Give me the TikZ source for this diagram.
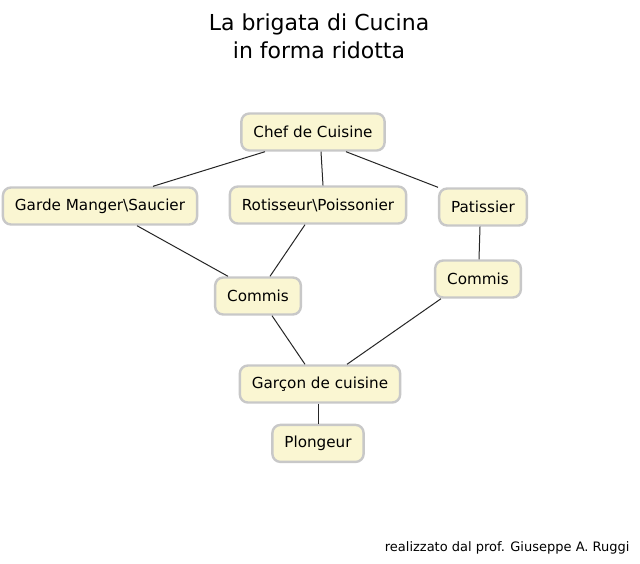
\documentclass[tikz,border=0pt]{standalone}
\usepackage{fontspec}
\setmainfont{DejaVu Sans}
\usetikzlibrary{positioning}
\definecolor{boxfill}{HTML}{FAF6D2}
\definecolor{boxline}{HTML}{C8C8C8}

\begin{document}
\begin{tikzpicture}[
x=1pt,y=-1pt,
role/.style={draw=boxline,fill=boxfill,line width=2.4pt,rounded corners=8pt,
  inner xsep=12pt,minimum height=37pt,font=\fontsize{15.2}{18}\selectfont},
link/.style={line width=1pt,black!85}
]
\useasboundingbox[fill=white] (0,0) rectangle (640,563);

\node[align=center,font=\fontsize{22}{28}\selectfont] (title) at (319,36) {La brigata di Cucina\\in forma ridotta};

\node[role] (chef) at (313,132) {Chef de Cuisine};
\node[role] (garde) at (100,206) {Garde Manger\textbackslash Saucier};
\node[role] (rotis) at (318,205) {Rotisseur\textbackslash Poissonier};
\node[role] (patis) at (483,207) {Patissier};
\node[role] (commisl) at (258,296) {Commis};
\node[role] (commisr) at (478,279) {Commis};
\node[role] (garcon) at (320,384) {Garçon de cuisine};
\node[role,below=20pt of garcon,xshift=-2pt] (plong) {Plongeur};

\node[anchor=east,font=\fontsize{13}{15}\selectfont] (credit) at (633,548) {realizzato dal prof. Giuseppe A. Ruggi};

\draw[link] ([xshift=-48pt]chef.south) -- ([xshift=53pt]garde.north);
\draw[link] ([xshift=8pt]chef.south) -- ([xshift=5pt]rotis.north);
\draw[link] ([xshift=33pt]chef.south) -- (patis.north west);
\draw[link] ([xshift=37pt]garde.south) -- ([xshift=-30pt]commisl.north);
\draw[link] ([xshift=-13pt]rotis.south) -- ([xshift=12pt]commisl.north);
\draw[link] ([xshift=-3pt]patis.south) -- ([xshift=1pt]commisr.north);
\draw[link] ([xshift=14pt]commisl.south) -- ([xshift=-15pt]garcon.north);
\draw[link] ([xshift=-37pt]commisr.south) -- ([xshift=27pt]garcon.north);
\draw[link] ([xshift=-2pt]garcon.south) -- (plong.north);

\end{tikzpicture}
\end{document}
